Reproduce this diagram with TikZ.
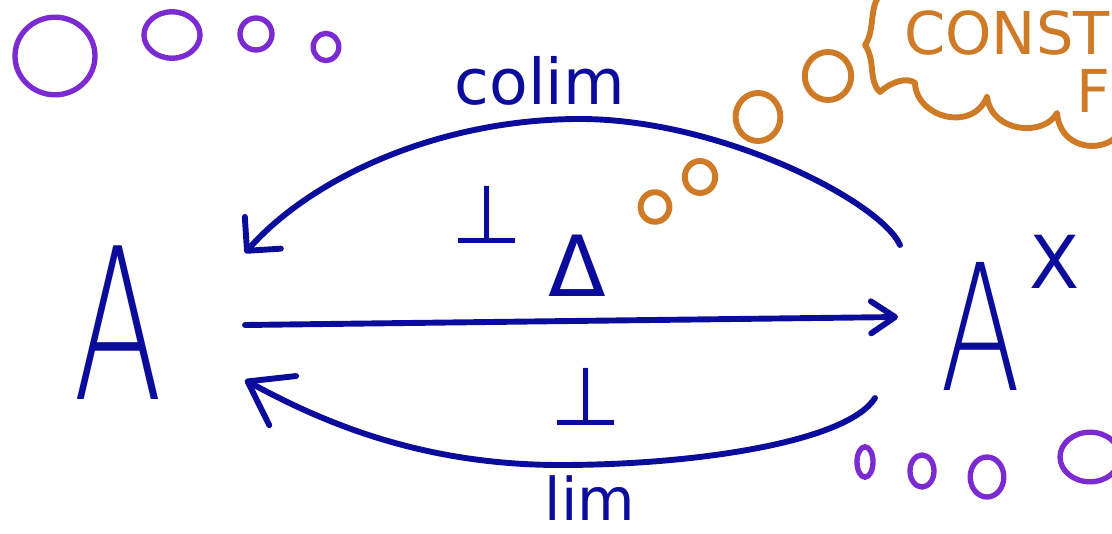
\documentclass[tikz,border=0pt]{standalone}
\usepackage{fontspec}
\setmainfont{DejaVu Sans}
\newfontfamily\thinhand{DejaVu Sans ExtraLight}
\usepackage{graphicx}
\usetikzlibrary{positioning,arrows.meta}
\definecolor{ink}{HTML}{0C0C9C}
\definecolor{grape}{HTML}{7B2BD1}
\definecolor{rust}{HTML}{CE7A26}
\tikzset{
    bigA/.style={inner sep=0, text=ink, font=\thinhand\fontsize{150}{150}\selectfont},
    lbl/.style={inner sep=0, text=ink, font=\fontsize{45}{45}\selectfont},
    note/.style={inner sep=0, text=rust, anchor=west, font=\fontsize{42}{42}\selectfont},
    pen/.style={draw=ink, line width=4.2pt, line cap=round, line join=round},
    bubble/.style={draw=grape, line width=3.8pt},
    blob/.style={draw=rust, line width=4.2pt, line cap=round, line join=round},
}
\begin{document}
\begin{tikzpicture}[node distance=1.5cm, auto]
    \useasboundingbox (0,0) rectangle (27.8,13.325);
    \clip (0,0) rectangle (27.8,13.325);

    \node[bigA] (A) at (2.95,5.25) {\scalebox{0.62}[1]{A}};
    \node[bigA, font=\thinhand\fontsize{125}{125}\selectfont] (AX) at (24.525,5.175) {\scalebox{0.67}[1]{A}};
    \node[lbl, font=\fontsize{52}{52}\selectfont] (X) [right=0.2cm of AX.north east] {X};

    \node[lbl] (colim) at (13.5,11.3) {colim};
    \node[lbl, font=\fontsize{42}{42}\selectfont] (lim) at (14.75,0.88) {lim};
    \node[lbl, font=\fontsize{60}{60}\selectfont] (delta) at (14.425,6.675) {Δ};
    \node[lbl, font=\fontsize{58}{58}\selectfont] (perpA) at (12.175,7.95) {⊥};
    \node[lbl, font=\fontsize{58}{58}\selectfont] (perpB) at (14.65,3.4) {⊥};

    \draw[pen, -{Straight Barb[length=6mm, width=8mm, round]}] ([shift={(3.175,-0.05)}]A.center) -- ([shift={(-2.075,0.225)}]AX.center);
    \draw[pen, -{Straight Barb[length=6mm, width=12mm, round]}] ([shift={(-2.025,2.025)}]AX.center)
        .. controls (22.0,8.3) and (18.0,10.35) .. (14.5,10.35)
        .. controls (11.0,10.35) and (7.8,8.9) .. ([shift={(3.175,1.75)}]A.center);
    \draw[pen, -{Straight Barb[length=10mm, width=14mm, round]}] ([shift={(-2.65,-1.8)}]AX.center)
        .. controls (21.2,2.3) and (17.5,1.7) .. (14.0,1.7)
        .. controls (10.5,1.7) and (8.0,2.8) .. ([shift={(3.175,-1.425)}]A.center);

    \foreach \cx/\cy/\rx/\ry in {1.375/11.925/1.0/0.97, 4.3/12.45/0.7/0.58, 6.4/12.475/0.4/0.4, 8.15/12.15/0.32/0.34,
        21.625/1.775/0.2/0.38, 23.05/1.55/0.3/0.4, 24.675/1.4/0.42/0.5, 27.25/1.9/0.75/0.62}
        \draw[bubble] (\cx,\cy) ellipse [x radius=\rx, y radius=\ry];
    \foreach \cx/\cy/\rx/\ry in {16.375/8.15/0.36/0.37, 17.5/8.9/0.38/0.4, 18.95/10.4/0.56/0.6, 20.7/11.425/0.58/0.6}
        \draw[blob] (\cx,\cy) ellipse [x radius=\rx, y radius=\ry];

    \node[note] (const) at (22.6,12.5) {CONST};
    \node[note] (fun) at (26.9,11.05) {F};
    \draw[blob] (22.05,13.5) .. controls (21.7,13.2) and (21.9,12.6) .. (21.625,12.2)
        .. controls (21.9,11.8) and (21.7,11.3) .. (22.0,11.025)
        .. controls (22.3,11.3) and (22.7,11.4) .. (22.875,11.25)
        .. controls (22.9,10.4) and (24.3,10.0) .. (24.675,10.9)
        .. controls (24.8,10.0) and (26.1,9.9) .. (26.425,10.5)
        .. controls (26.5,9.6) and (27.5,9.5) .. (27.9,9.9);
\end{tikzpicture}
\end{document}
